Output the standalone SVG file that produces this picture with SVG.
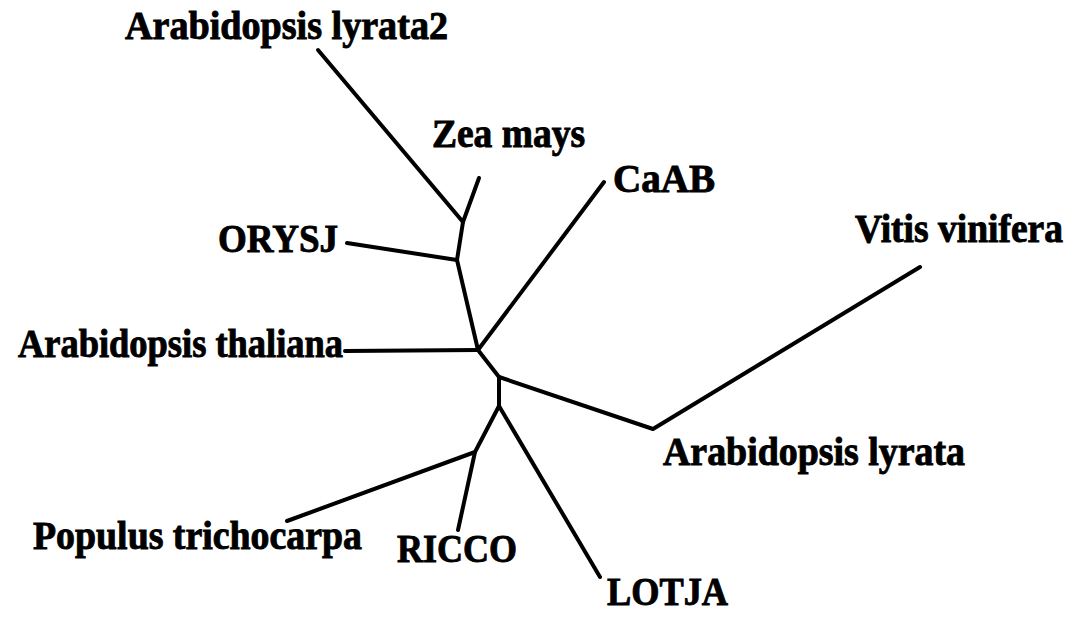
<svg xmlns="http://www.w3.org/2000/svg" width="1070" height="624" viewBox="0 0 1070 624">
<style>
.lbl{font-family:"Liberation Serif","Times New Roman",serif;font-weight:bold;font-size:39px;fill:#000;stroke:#000;stroke-width:0.9;}
.br{stroke:#000;stroke-width:4;fill:none;stroke-linecap:round;stroke-linejoin:round;}
</style>
<rect width="1070" height="624" fill="#fff"/>
<g id="connectors">
<polyline class="br" points="318,50 463,222 479,178"/>
<polyline class="br" points="463,222 457,260 478,350 499,377 499,406 600,577"/>
<line class="br" x1="347" y1="243" x2="457" y2="260"/>
<line class="br" x1="604" y1="182" x2="478" y2="350"/>
<line class="br" x1="345" y1="351" x2="478" y2="350"/>
<polyline class="br" points="499,377 653,429 920,267"/>
<polyline class="br" points="499,406 475,452 287,521"/>
<line class="br" x1="475" y1="452" x2="458" y2="530"/>
</g>
<g id="n-lyrata2"><text class="lbl" x="125" y="39" textLength="323" lengthAdjust="spacingAndGlyphs">Arabidopsis lyrata2</text></g>
<g id="n-zea"><text class="lbl" x="432" y="147" textLength="153" lengthAdjust="spacingAndGlyphs">Zea mays</text></g>
<g id="n-caab"><text class="lbl" x="613" y="192" textLength="102" lengthAdjust="spacingAndGlyphs">CaAB</text></g>
<g id="n-orysj"><text class="lbl" x="218" y="252" textLength="120" lengthAdjust="spacingAndGlyphs">ORYSJ</text></g>
<g id="n-vitis"><text class="lbl" x="855" y="242" textLength="208" lengthAdjust="spacingAndGlyphs">Vitis vinifera</text></g>
<g id="n-thaliana"><text class="lbl" x="18" y="357" textLength="325" lengthAdjust="spacingAndGlyphs">Arabidopsis thaliana</text></g>
<g id="n-lyrata"><text class="lbl" x="663" y="465" textLength="302" lengthAdjust="spacingAndGlyphs">Arabidopsis lyrata</text></g>
<g id="n-populus"><text class="lbl" x="33" y="549" textLength="329" lengthAdjust="spacingAndGlyphs">Populus trichocarpa</text></g>
<g id="n-ricco"><text class="lbl" x="397" y="562" textLength="120" lengthAdjust="spacingAndGlyphs">RICCO</text></g>
<g id="n-lotja"><text class="lbl" x="607" y="605" textLength="121" lengthAdjust="spacingAndGlyphs">LOTJA</text></g>
</svg>
